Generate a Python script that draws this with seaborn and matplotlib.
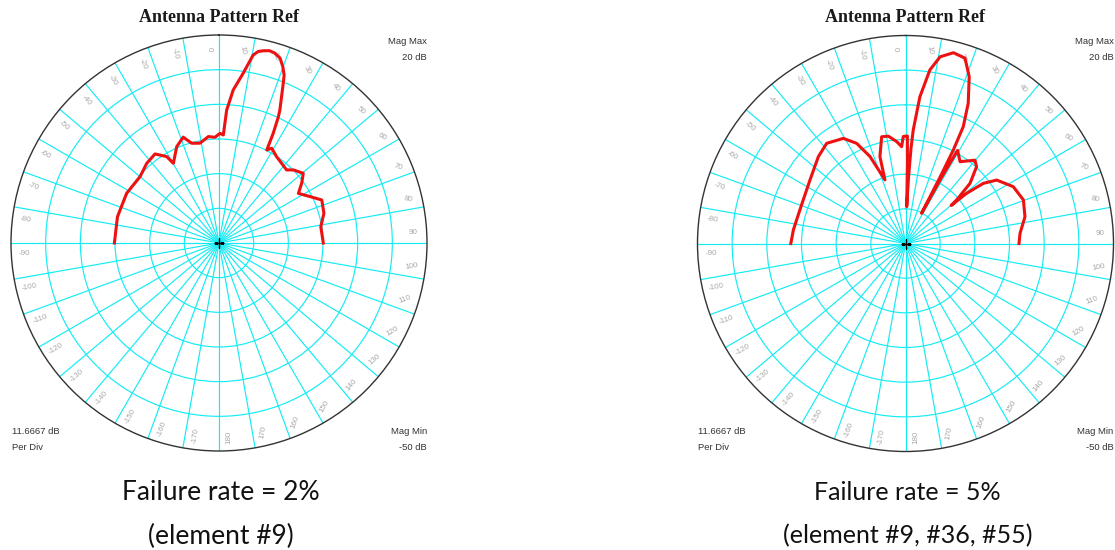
import numpy as np
import pandas as pd
import matplotlib
matplotlib.use("Agg")
import matplotlib.pyplot as plt
import seaborn as sns

# Radiation patterns (azimuth in degrees, clockwise from boresight; gain in dB)
angle_fail2 = [-90, -75.5, -61.7, -50, -42.2, -35.7, -31.2, -29.8, -23.7, -18.7,
               -15.3, -10.8, -5.7, -2.2, 0.5, 2.3, 3.3, 4.4, 5.3, 8.1, 10.3,
               11.6, 13.0, 14.7, 16.4, 18.3, 19.9, 21.2, 21.9, 24.6, 25.2, 26.3,
               27.2, 29.1, 33.8, 42.8, 45.5, 50.4, 54.2, 58.0, 63.0, 67.3, 74.2,
               80.9, 90]
gain_fail2 = [-14.8, -14.7, -14.7, -15.3, -13.8, -13.1, -16.0, -19.1, -14.6, -12.4,
              -15.2, -15.8, -14.0, -14.4, -13.1, -13.6, -5.2, -1.7, 1.7, 7.7, 14.3,
              15.8, 16.4, 16.9, 16.6, 15.5, 13.1, 10.6, 8.0, -0.8, -3.1, -8.8,
              -14.8, -13.5, -15.1, -16.5, -14.9, -13.2, -15.7, -18.5, -15.6, -12.5, -13.3,
              -15.3, -14.9]

angle_fail5 = [-90, -83, -72.4, -56.4, -45.1, -38.2, -30.6, -26.0, -22.2, -17.9,
               -16.4, -12.6, -9.1, -4.9, -2.3, -1.2, 1.0, 1.4, 1.9, 2.6, 3.3,
               3.9, 5.6, 8.0, 10.5, 14.1, 17.8, 20.9, 24.1, 26.3, 27.1, 27.5,
               28.0, 28.6, 29.2, 33.7, 39.8, 42.8, 47.0, 49.6, 50.2, 50.6, 52.3,
               55.2, 62.2, 69.7, 77.4, 84.9, 90]
gain_fail5 = [-11.4, -12.0, -12.7, -11.4, -8.6, -7.1, -8.9, -12.5, -18.4, -27.5,
              -19.5, -13.2, -13.4, -15.6, -17.4, -14.0, -13.8, -23.0, -37.6, -28.0, -18.0,
              -11.7, -0.4, 9.0, 13.9, 16.2, 15.5, 10.1, 1.7, -6.1, -14.7, -24.7,
              -38.5, -25.0, -14.1, -16.9, -13.5, -14.8, -20.3, -27.4, -30.0, -23.4, -16.9,
              -12.6, -9.0, -7.7, -8.8, -11.3, -11.8]

captions = [("Failure rate = 2%", "(element #9)"),
            ("Failure rate = 5%", "(element #9, #36, #55)")]

MAG_MIN, MAG_MAX, N_DIV = -50.0, 20.0, 6
PER_DIV = (MAG_MAX - MAG_MIN) / N_DIV

W, H = 1115, 550
fig = plt.figure(figsize=(W / 100, H / 100), dpi=100)
fig.patch.set_facecolor("white")

GRID = "#14ecf4"
RED = "#ee1111"
R_PX = 208


def fx(px):
    return px / W


def fy(py):
    return 1 - py / H


def draw_pattern(cx, cy, angles, gains, caption, caption_size):
    ax = fig.add_axes([fx(cx - R_PX), fy(cy + R_PX), 2 * R_PX / W, 2 * R_PX / H],
                      projection="polar")
    ax.set_theta_zero_location("N")
    ax.set_theta_direction(-1)
    ax.set_ylim(MAG_MIN, MAG_MAX)
    ax.set_facecolor("white")

    # spokes every 10 degrees, rings every division
    ax.set_xticks(np.deg2rad(np.arange(0, 360, 10)))
    ax.set_xticklabels([])
    ax.set_yticks([MAG_MIN + PER_DIV * k for k in range(1, N_DIV)])
    ax.set_yticklabels([])
    ax.tick_params(length=0)
    ax.grid(True, color=GRID, linewidth=0.85, linestyle="-")
    ax.spines["polar"].set_color("#333333")
    ax.spines["polar"].set_linewidth(1.0)

    df = pd.DataFrame({"theta": np.deg2rad(angles), "gain": gains})
    sns.lineplot(data=df, x="theta", y="gain", sort=False, estimator=None,
                 color=RED, linewidth=2.2, ax=ax, zorder=5)
    ax.set_xlabel("")
    ax.set_ylabel("")

    # azimuth labels around the rim
    for a in range(-170, 190, 10):
        ax.text(np.deg2rad(a - 3), MAG_MIN + 0.935 * (MAG_MAX - MAG_MIN), str(a),
                rotation=abs(a) - 90, rotation_mode="anchor",
                ha="center", va="center", fontsize=5.8, color="#a8a8a8",
                family="Liberation Sans")

    # center cross
    ax.plot([0], [MAG_MIN], marker="+", color="black", markersize=7,
            markeredgewidth=1.0, zorder=6)

    fig.text(fx(cx), fy(18), "Antenna Pattern Ref", ha="center", va="center",
             fontsize=13, fontweight="bold", family="Liberation Serif",
             color="#1a1a1a")
    small = dict(fontsize=6.8, family="Liberation Sans", color="#333333",
                 va="center")
    right = cx + R_PX
    left = cx - R_PX + 1
    fig.text(fx(right), fy(42), "Mag Max", ha="right", **small)
    fig.text(fx(right), fy(58), "20 dB", ha="right", **small)
    fig.text(fx(right), fy(432), "Mag Min", ha="right", **small)
    fig.text(fx(right), fy(448), "-50 dB", ha="right", **small)
    fig.text(fx(left), fy(432), f"{PER_DIV:.4f} dB", ha="left", **small)
    fig.text(fx(left), fy(448), "Per Div", ha="left", **small)

    fig.text(fx(cx + 2), fy(492), caption[0], ha="center", va="center",
             fontsize=caption_size, family="Lato", color="#111111")
    fig.text(fx(cx + 2), fy(536), caption[1], ha="center", va="center",
             fontsize=caption_size, family="Lato", color="#111111")


draw_pattern(219, 243, angle_fail2, gain_fail2, captions[0], 19.0)
draw_pattern(905.5, 243.5, angle_fail5, gain_fail5, captions[1], 18.0)

fig.savefig("out.png", dpi=100, facecolor="white")
